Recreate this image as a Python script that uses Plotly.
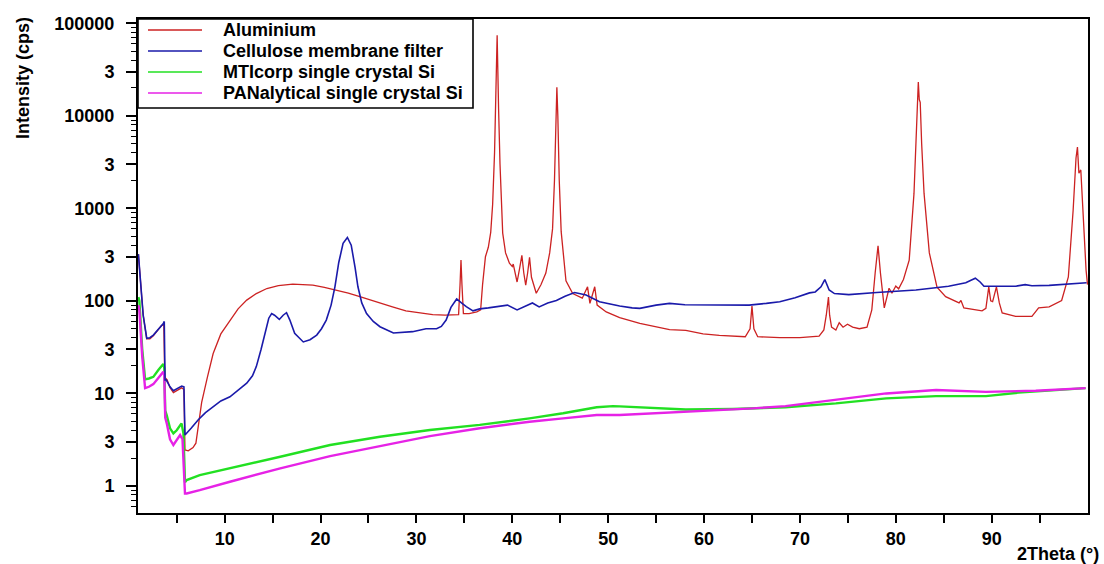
import plotly.graph_objects as go

# ---------------- data ----------------
al_x = [1.0, 1.2, 1.5, 1.87, 2.2, 2.56, 3.0, 3.4, 3.65, 3.75, 4.0, 4.3, 4.65, 5.0, 5.5, 5.75, 5.86,
        6.2, 6.7, 7.0, 7.25, 7.6, 8.2, 8.8, 9.6, 10.55, 11.4, 12.3, 13.3, 14.4, 15.6, 17.1, 18.2,
        19.2, 20.4, 21.7, 22.9, 24.1, 25.2, 26.2, 27.5, 28.9, 30.3, 31.7, 33.0, 34.4, 34.55, 34.65,
        34.75, 34.9, 35.5, 36.3, 36.7, 36.9, 37.2, 37.5, 37.75, 37.95, 38.15, 38.27, 38.42, 38.57,
        38.72, 39.0, 39.3, 39.7, 40.0, 40.1, 40.3, 40.5, 40.75, 41.0, 41.2, 41.4, 41.6, 41.8, 42.0,
        42.5, 43.0, 43.5, 43.9, 44.2, 44.4, 44.55, 44.65, 44.75, 44.9, 45.1, 45.6, 46.3, 47.3,
        47.85, 48.1, 48.6, 48.85, 49.8, 51.2, 53.3, 56.4, 58.1, 59.9, 61.6, 64.3, 64.8, 65.0, 65.2,
        65.6, 67.9, 70.0, 72.0, 72.5, 72.75, 72.98, 73.1, 73.3, 73.75, 74.1, 74.5, 74.96, 75.5,
        76.2, 77.0, 77.5, 77.85, 78.15, 78.4, 78.8, 79.3, 79.6, 80.0, 80.3, 80.8, 81.4, 81.9,
        82.15, 82.35, 82.45, 82.55, 82.7, 82.95, 83.5, 84.3, 85.2, 86.6, 86.8, 87.1, 89.0, 89.4,
        89.7, 89.9, 90.1, 90.5, 90.8, 91.1, 92.5, 94.2, 94.9, 96.0, 97.3, 98.0, 98.5, 98.8, 98.95,
        99.1, 99.3, 99.6, 99.85, 100.0]
al_y = [320, 170, 70, 39, 39, 42, 48, 54, 56, 15, 14, 11.5, 10.2, 10.8, 11.5, 11, 2.45,
        2.4, 2.6, 2.9, 4.5, 8, 15, 27, 44, 62, 82, 102, 120, 136, 146, 152, 151,
        148, 140, 131, 121, 111, 102, 94, 86, 78, 74, 71, 70, 71, 150, 276,
        150, 73, 73, 76, 80, 150, 300, 380, 550, 1100, 4000, 12000, 74000, 12000,
        3000, 540, 330, 256, 235, 250, 200, 160, 220, 310, 200, 148, 200, 295, 180,
        121, 150, 200, 330, 600, 2000, 10000, 20400, 10000, 2000, 560, 165, 120, 107,
        142, 94, 142, 90, 76, 66, 57, 49, 48, 44, 42.4, 41, 50, 88, 50,
        41, 40, 40, 41.5, 48.5, 70, 110, 70, 52, 48.5, 58, 52, 56, 52,
        50, 52, 80, 200, 394, 200, 84, 137, 121, 145, 135, 170, 275, 1450,
        8000, 23200, 15000, 14000, 5000, 1450, 330, 141, 111, 95, 101, 84, 78, 83,
        142, 100, 98, 142, 95, 74, 68, 68, 84, 86, 101, 182, 955, 3500, 4590,
        2400, 2600, 630, 214, 150]

cel_x = [1.0, 1.2, 1.5, 1.87, 2.2, 2.56, 3.0, 3.4, 3.6, 3.7, 3.78, 3.9, 4.3, 4.65, 5.0, 5.52, 5.75,
         5.86, 6.5, 7.25, 8.0, 8.8, 9.6, 10.55, 11.5, 12.3, 12.9, 13.3, 13.8, 14.2, 14.6, 14.9,
         15.2, 15.7, 16.1, 16.45, 16.8, 17.3, 18.2, 18.9, 19.6, 20.1, 20.6, 21.1, 21.5, 21.9,
         22.35, 22.8, 23.2, 23.6, 23.9, 24.3, 24.8, 25.5, 26.2, 27.6, 28.6, 29.6, 31.0, 32.1,
         32.6, 33.1, 33.6, 34.2, 34.7, 35.2, 35.9, 36.6, 37.5, 38.3, 39.5, 40.5, 41.3, 42.1,
         42.8, 43.7, 44.6, 45.5, 46.5, 47.7, 49.1, 50.2, 51.2, 52.5, 53.3, 55.0, 56.4, 58.0,
         61.6, 64.7, 66.5, 67.9, 69.5, 71.0, 71.6, 72.2, 72.6, 73.05, 73.6, 75.1, 78.0, 82.1,
         85.5, 87.3, 87.9, 88.3, 88.8, 89.2, 92.5, 93.5, 94.2, 96.0, 99.9]
cel_y = [320, 167, 70, 39.5, 40, 42.7, 48, 54, 57, 60, 14, 14, 11.8, 10.7, 11.3, 12, 11.8,
         3.55, 4.2, 5.2, 6.2, 7.2, 8.3, 9.2, 11, 12.9, 15.5, 19.5, 30, 44.6, 65, 73,
         70, 63, 70, 74.5, 62, 44.6, 36, 38, 42.7, 50, 62, 90, 142, 260,
         418, 485, 400, 230, 142, 95, 73, 60, 52.6, 45, 45.5, 46.5, 50, 50,
         53, 62, 85, 105, 95, 86.6, 78, 82, 84, 86, 90, 80, 88, 95,
         86, 95, 101, 112, 123, 116, 98, 92, 88, 84, 83, 90, 94, 91,
         90, 90, 94, 98, 108, 122, 125, 142, 170, 131, 120, 117, 123, 131,
         144, 157, 168, 176, 160, 144, 144, 150, 146, 147, 157]

mti_x = [1.0, 1.1, 1.4, 1.7, 2.1, 2.56, 3.1, 3.6, 3.7, 3.8, 3.96, 4.3, 4.65, 5.0, 5.5, 5.7, 5.86,
         6.04, 7.4, 10.55, 15.8, 21.0, 26.2, 31.4, 36.6, 41.8, 45.3, 48.8, 50.5, 51.2, 53.3,
         58.1, 63.0, 68.5, 73.75, 79.0, 84.2, 89.4, 92.8, 96.0, 99.8]
mti_y = [110, 100, 30, 14.2, 14.5, 15.1, 18, 20.8, 19, 6.5, 5.8, 4.2, 3.7, 4.0, 4.75, 3.7, 1.1,
         1.16, 1.31, 1.55, 2.07, 2.77, 3.4, 4.03, 4.57, 5.37, 6.1, 7.08, 7.3, 7.25, 7.08,
         6.7, 6.8, 7.08, 7.8, 8.85, 9.35, 9.35, 10.2, 10.8, 11.4]

pan_x = [1.0, 1.1, 1.4, 1.7, 2.1, 2.56, 3.1, 3.6, 3.7, 3.8, 3.96, 4.3, 4.65, 5.0, 5.35, 5.6, 5.86,
         6.04, 7.4, 10.55, 15.8, 21.0, 26.2, 31.4, 36.6, 41.8, 45.3, 48.8, 51.2, 53.3, 58.1,
         65.1, 68.5, 73.75, 79.0, 84.2, 89.4, 94.6, 99.8]
pan_y = [90, 80, 25, 11.4, 11.8, 12.6, 14.8, 17.1, 16, 5.5, 4.75, 3.2, 2.77, 3.1, 3.55, 3.2, 0.83,
         0.83, 0.9, 1.11, 1.55, 2.1, 2.7, 3.46, 4.2, 4.95, 5.38, 5.85, 5.85, 6.0, 6.3,
         6.9, 7.3, 8.5, 10.0, 10.9, 10.4, 10.7, 11.4]

series_names = ["Aluminium", "Cellulose membrane filter", "MTIcorp single crystal Si",
                "PANalytical single crystal Si"]
series_colors = ["#cc2222", "#1a1aaa", "#22e022", "#e622e6"]

y_tick_vals = [1, 3, 10, 30, 100, 300, 1000, 3000, 10000, 30000, 100000]
y_tick_text = ["1", "3", "10", "3", "100", "3", "1000", "3", "10000", "3", "100000"]
y_minor_vals = [m * 10 ** e for e in range(-1, 5) for m in (2, 4, 5, 6, 7, 8, 9)]
x_tick_vals = list(range(5, 100, 5))
x_tick_text = [str(v) if v % 10 == 0 else "" for v in x_tick_vals]

# ---------------- figure ----------------
W, H = 1104, 564
L, R, T, B = 138, 16, 19, 51
PW, PH = W - L - R, H - T - B


def px(xp):
    return (xp - L) / PW


def py(yp):
    return (H - B - yp) / PH


FONT = "Arial, Liberation Sans, sans-serif"

fig = go.Figure()
data = [(al_x, al_y, 1.3), (mti_x, mti_y, 2.4), (pan_x, pan_y, 2.4), (cel_x, cel_y, 1.6)]
order = [0, 2, 3, 1]
for (xs, ys, w), idx in zip(data, order):
    fig.add_trace(go.Scatter(x=xs, y=ys, mode="lines", name=series_names[idx],
                             line=dict(color=series_colors[idx], width=w),
                             showlegend=False))

# custom legend box (drawn as in the reference)
shapes = [dict(type="rect", xref="paper", yref="paper", x0=px(138), x1=px(473),
               y0=py(108), y1=py(19), line=dict(color="black", width=1.6),
               fillcolor="white", layer="above")]
annotations = []
rows = [30, 51, 72, 93]
for i, name in enumerate(series_names):
    shapes.append(dict(type="line", xref="paper", yref="paper", x0=px(148), x1=px(202),
                       y0=py(rows[i]), y1=py(rows[i]),
                       line=dict(color=series_colors[i], width=1.3), layer="above"))
    annotations.append(dict(xref="paper", yref="paper", x=px(221), y=py(rows[i]),
                            xanchor="left", yanchor="middle", showarrow=False, text=name,
                            font=dict(family=FONT, size=18, color="black", weight="bold")))

annotations.append(dict(xref="paper", yref="paper", x=px(23), y=py(78), text="Intensity (cps)",
                        textangle=-90, showarrow=False, xanchor="center", yanchor="middle",
                        font=dict(family=FONT, size=18, color="black", weight="bold")))
annotations.append(dict(xref="paper", yref="paper", x=px(1101), y=py(554), text="2Theta (°)",
                        showarrow=False, xanchor="right", yanchor="middle",
                        font=dict(family=FONT, size=18, color="black", weight="bold")))

fig.update_layout(
    width=W, height=H,
    margin=dict(l=L, r=R, t=T, b=B),
    paper_bgcolor="white", plot_bgcolor="white",
    shapes=shapes, annotations=annotations,
    xaxis=dict(range=[0.96, 100.05], showgrid=False, zeroline=False,
               showline=True, linecolor="black", linewidth=2, mirror=True,
               ticks="outside", ticklen=8, tickwidth=1.6, tickcolor="black",
               tickmode="array", tickvals=x_tick_vals, ticktext=x_tick_text,
               tickfont=dict(family=FONT, size=18, color="black", weight="bold")),
    yaxis=dict(type="log", range=[-0.292, 5.046], showgrid=False, zeroline=False,
               showline=True, linecolor="black", linewidth=2, mirror=True,
               ticks="outside", ticklen=10, tickwidth=1.6, tickcolor="black",
               ticklabelstandoff=8,
               tickmode="array", tickvals=y_tick_vals, ticktext=y_tick_text,
               tickfont=dict(family=FONT, size=18, color="black", weight="bold"),
               minor=dict(ticks="outside", ticklen=5, tickwidth=1.2, tickcolor="black",
                          tickmode="array", tickvals=y_minor_vals, showgrid=False)),
)

fig.write_html("out.html")
